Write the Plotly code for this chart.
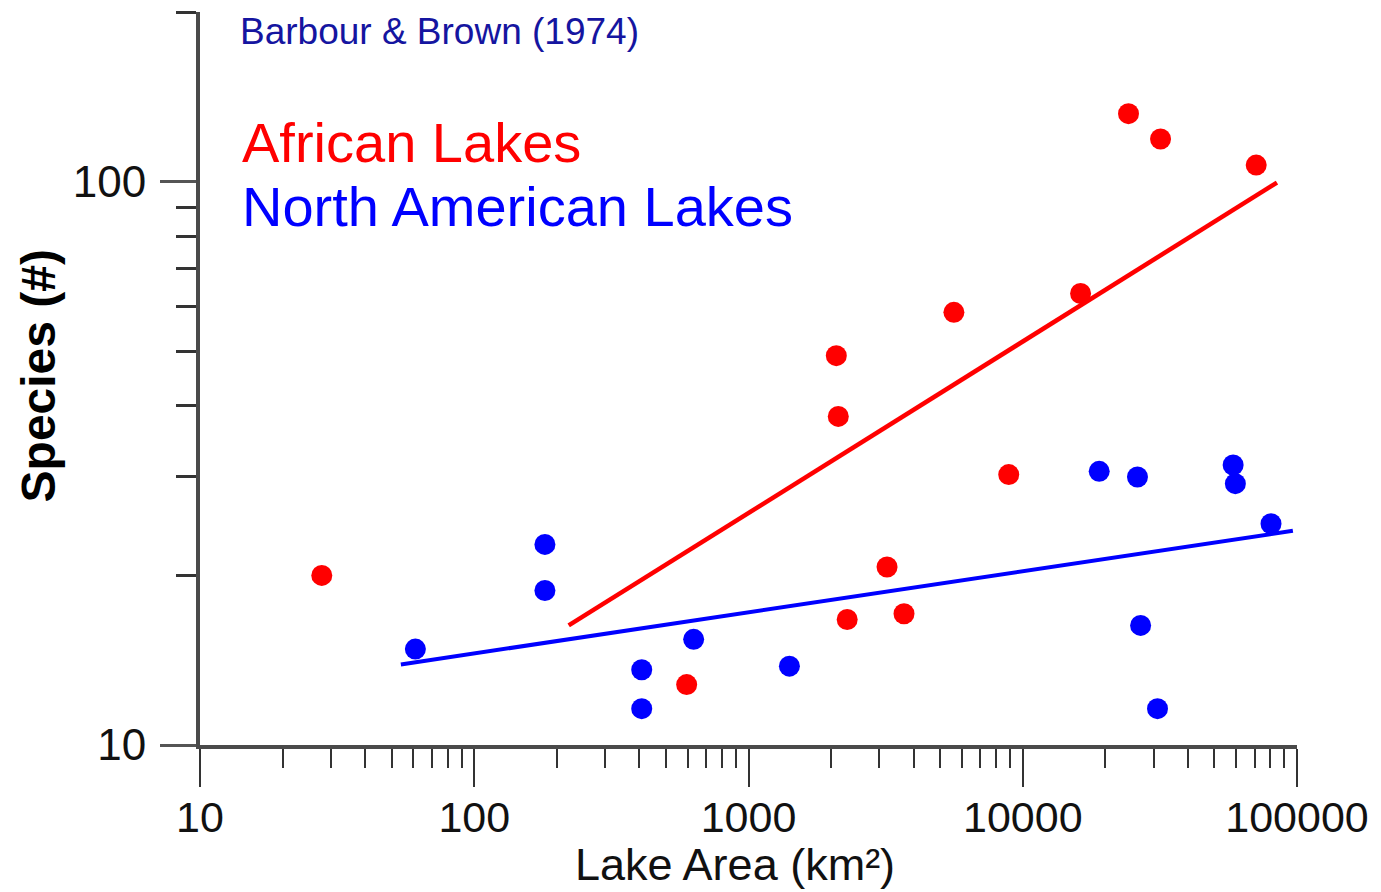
import plotly.graph_objects as go

# Barbour & Brown (1974): fish species richness vs. lake surface area
african_area = [27.8, 595, 2090, 2125, 2290, 3200, 3690, 5610, 8890, 16250, 24300, 31800, 71000]
african_species = [20.0, 12.8, 49.1, 38.3, 16.7, 20.7, 17.1, 58.6, 30.2, 63.3, 132, 119, 107]

na_area = [61, 181, 181, 408, 408, 631, 1410, 19000, 26200, 26900, 31000, 58500, 59600, 80400]
na_species = [14.8, 22.7, 18.8, 13.6, 11.6, 15.4, 13.8, 30.6, 29.9, 16.3, 11.6, 31.4, 29.1, 24.7]

# endpoints of the fitted power-law lines
african_fit_area = [221, 84500]
african_fit_species = [16.3, 99.6]
na_fit_area = [54, 96600]
na_fit_species = [13.9, 24.0]

x_ticks = [10, 100, 1000, 10000, 100000]
y_ticks = [10, 100]

RED = "#ff0000"
BLUE = "#0000ff"
FONT = "Liberation Sans, Arial, sans-serif"
AXIS_COLOR = "#4a4a4a"
TICK_COLOR = "#333333"

fig = go.Figure()

fig.add_trace(go.Scatter(x=african_fit_area, y=african_fit_species, mode="lines",
                         line=dict(color=RED, width=4.5), showlegend=False, hoverinfo="skip"))
fig.add_trace(go.Scatter(x=na_fit_area, y=na_fit_species, mode="lines",
                         line=dict(color=BLUE, width=4), showlegend=False, hoverinfo="skip"))
fig.add_trace(go.Scatter(x=african_area, y=african_species, mode="markers",
                         marker=dict(color=RED, size=21), name="African Lakes", showlegend=False))
fig.add_trace(go.Scatter(x=na_area, y=na_species, mode="markers",
                         marker=dict(color=BLUE, size=21), name="North American Lakes", showlegend=False))

W, H = 1381, 892
L, R, T, B = 200, 81, 12, 147
pw, ph = W - L - R, H - T - B


def px(x):
    return (x - L) / pw


def py(y):
    return (H - B - y) / ph


fig.update_layout(
    width=W, height=H,
    margin=dict(l=L, r=R, t=T, b=B),
    paper_bgcolor="white", plot_bgcolor="white",
    font=dict(family=FONT, color="#111111"),
    xaxis=dict(
        type="log", range=[1, 5], showgrid=False, zeroline=False,
        showline=True, linecolor=AXIS_COLOR, linewidth=4,
        tickmode="array", tickvals=x_ticks, ticktext=[str(v) for v in x_ticks],
        ticks="outside", ticklen=38, tickwidth=2, tickcolor=TICK_COLOR,
        tickfont=dict(size=43, family=FONT, color="#111111"),
        ticklabelstandoff=-7,
        minor=dict(ticks="outside", ticklen=19, tickwidth=2, tickcolor=TICK_COLOR,
                   dtick="D1", showgrid=False),
    ),
    yaxis=dict(
        type="log", range=[1, 2.30103], showgrid=False, zeroline=False,
        showline=True, linecolor=AXIS_COLOR, linewidth=4,
        tickmode="array", tickvals=y_ticks, ticktext=[str(v) for v in y_ticks],
        ticks="outside", ticklen=36, tickwidth=3, tickcolor="#555555",
        tickfont=dict(size=44, family=FONT, color="#111111"),
        ticklabelstandoff=5,
        minor=dict(ticks="outside", ticklen=20, tickwidth=3, tickcolor=TICK_COLOR,
                   dtick="D1", showgrid=False),
    ),
    annotations=[
        dict(text="Barbour &amp; Brown (1974)", xref="paper", yref="paper",
             x=px(238), y=py(31), xanchor="left", yanchor="middle", showarrow=False,
             font=dict(size=37, family=FONT, color="#1515a0")),
        dict(text="African Lakes", xref="paper", yref="paper",
             x=px(240), y=py(142), xanchor="left", yanchor="middle", showarrow=False,
             font=dict(size=56, family=FONT, color=RED)),
        dict(text="North American Lakes", xref="paper", yref="paper",
             x=px(240), y=py(206), xanchor="left", yanchor="middle", showarrow=False,
             font=dict(size=56, family=FONT, color=BLUE)),
        dict(text="<b>Species (#)</b>", xref="paper", yref="paper",
             x=px(38), y=py(376), xanchor="center", yanchor="middle", showarrow=False,
             textangle=-90, font=dict(size=48, family=FONT, color="#000000")),
        dict(text="Lake Area (km²)", xref="paper", yref="paper",
             x=px(736), y=py(891), xanchor="center", yanchor="bottom", showarrow=False,
             borderpad=0, font=dict(size=45, family=FONT, color="#111111")),
    ],
)

fig.write_html("out.html")
